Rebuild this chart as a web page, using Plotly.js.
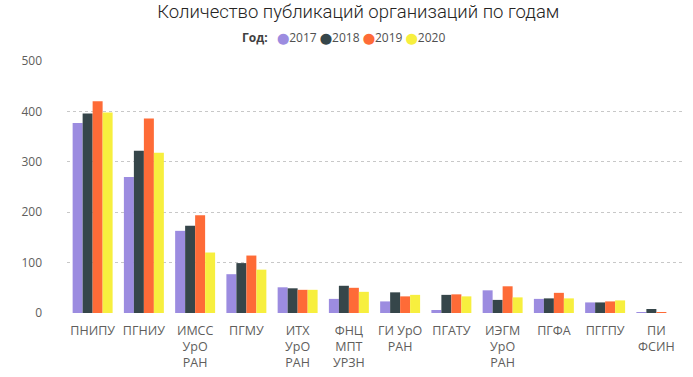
<!DOCTYPE html>
<html>
<head>
<meta charset="utf-8">
<script src="https://cdn.plot.ly/plotly-3.0.1.min.js"></script>
<style>html,body{margin:0;padding:0;background:#fff;}#chart{width:693px;height:377px;}</style>
</head>
<body>
<div id="chart"></div>
<script>
const categories = ["ПНИПУ","ПГНИУ","ИМСС<br>УрО<br>РАН","ПГМУ","ИТХ<br>УрО<br>РАН","ФНЦ<br>МПТ<br>УРЗН","ГИ УрО<br>РАН","ПГАТУ","ИЭГМ<br>УрО<br>РАН","ПГФА","ПГГПУ","ПИ<br>ФСИН"];
const years = ["2017","2018","2019","2020"];
const v2017 = [377,270,163,77,51,28,23,6,45,28,21,2];
const v2018 = [396,322,173,99,49,54,41,36,26,29,21,8];
const v2019 = [420,386,194,114,46,50,33,37,53,40,23,2];
const v2020 = [398,318,120,86,46,42,36,33,31,29,25,0];
const yTicks = [0,100,200,300,400,500];

const colors = ["#9C8CE0","#36464A","#FE6B37","#F7EF3E"];
const series = [v2017,v2018,v2019,v2020];

const traces = series.map((vals,i)=>({
  type:'bar', x:categories, y:vals, name:years[i], marker:{color:colors[i]}, showlegend:false, hoverinfo:'x+y'
}));

// legend drawn as a compact text line (Power BI style)
const legendText = '<span style="color:#404040"><b>Год:</b></span>&nbsp;&nbsp; ' + years.map((yr,i)=>
  '<span style="color:' + colors[i] + ';font-family:DejaVu Sans;font-size:11px">⬤</span>' + yr).join('&nbsp;');

const layout = {
  width:693, height:377,
  margin:{l:67, r:11, t:61, b:64},
  paper_bgcolor:'#fff', plot_bgcolor:'#fff',
  font:{family:'"Segoe UI", "Open Sans", sans-serif', color:'#605E5C', size:12},
  title:{text:'Количество публикаций организаций по годам', x:0.517, xanchor:'center', y:0.97, yref:'container', yanchor:'middle',
         font:{family:'"Segoe UI", Roboto, sans-serif', size:18.5, color:'#252423', weight:300}},
  barmode:'group', bargap:0.22, bargroupgap:0,
  showlegend:false,
  annotations:[{text:legendText, xref:'paper', yref:'paper', x:0.45, y:1.095, xanchor:'center', yanchor:'middle',
                showarrow:false, font:{size:12, color:'#505050', family:'"Segoe UI", "Open Sans", sans-serif'}}],
  xaxis:{type:'category', tickfont:{size:12.5, color:'#605E5C'}, showgrid:false, zeroline:false, showline:false, ticks:'', ticklabelstandoff:8, automargin:false},
  yaxis:{range:[0,500], tickvals:yTicks, ticktext:yTicks.map(String), showgrid:true, gridcolor:'#C8C8C8', griddash:'dot', gridwidth:1,
         zeroline:false, showline:false, tickfont:{size:12, color:'#605E5C'}, ticklabelstandoff:24, automargin:false}
};
Plotly.newPlot('chart', traces, layout, {displayModeBar:false, staticPlot:true});
</script>
</body>
</html>
